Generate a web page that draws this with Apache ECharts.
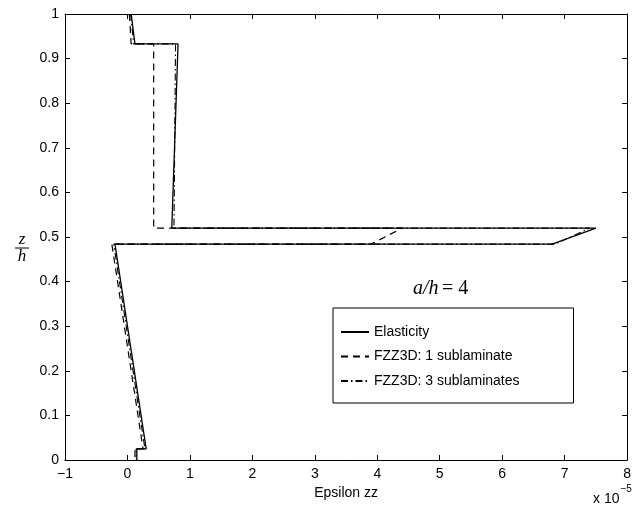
<!DOCTYPE html>
<html>
<head>
<meta charset="utf-8">
<script src="https://cdn.jsdelivr.net/npm/echarts@6/dist/echarts.min.js"></script>
<style>html,body{margin:0;padding:0;background:#fff}#c{width:634px;height:505px}</style>
</head>
<body>
<div id="c"></div>
<script>
// Data (x in units of 1e-5, y = z/h)
const elasticX = [0.06, 0.12, 0.81, 0.71, 7.5, 6.8, -0.2, 0.3, 0.15, 0.15];
const elasticY = [1.0, 0.933, 0.933, 0.52, 0.52, 0.484, 0.484, 0.025, 0.025, 0.0];
const sub1X = [0.03, 0.06, 0.42, 0.42, 4.4, 3.9, -0.25, 0.25, 0.12, 0.12];
const sub1Y = [1.0, 0.933, 0.933, 0.52, 0.52, 0.484, 0.484, 0.025, 0.025, 0.0];
const sub3X = [0.05, 0.1, 0.77, 0.745, 7.4, 6.85, -0.22, 0.28, 0.14, 0.14];
const sub3Y = [1.0, 0.933, 0.933, 0.52, 0.52, 0.484, 0.484, 0.025, 0.025, 0.0];
const seriesNames = ['Elasticity', 'FZZ3D: 1 sublaminate', 'FZZ3D: 3 sublaminates'];

const zip = (xs, ys) => xs.map((x, i) => [x, ys[i]]);
const font = 'Liberation Sans, Arial, Helvetica, sans-serif';
const serif = 'Liberation Serif, Times New Roman, serif';

const chart = echarts.init(document.getElementById('c'), null, {renderer: 'canvas'});
const baseX = {
  type: 'value', min: -1, max: 8, interval: 1,
  axisLine: {show: true, onZero: false, lineStyle: {color: '#000', width: 1}},
  axisTick: {show: true, inside: true, length: 5, lineStyle: {color: '#000'}},
  splitLine: {show: false}
};
const baseY = {
  type: 'value', min: 0, max: 1, interval: 0.1,
  axisLine: {show: true, onZero: false, lineStyle: {color: '#000', width: 1}},
  axisTick: {show: true, inside: true, length: 5, lineStyle: {color: '#000'}},
  splitLine: {show: false}
};
chart.setOption({
  animation: false,
  backgroundColor: '#fff',
  grid: {left: 65, right: 0, top: 14, bottom: 45},
  xAxis: [
    Object.assign({}, baseX, {position: 'bottom',
      axisLabel: {color: '#000', fontSize: 14, fontFamily: font, margin: 7,
        formatter: v => (v < 0 ? '\u2212' + (-v) : String(v))},
      name: 'Epsilon zz', nameLocation: 'middle', nameGap: 25,
      nameTextStyle: {color: '#000', fontSize: 14, fontFamily: font}}),
    Object.assign({}, baseX, {position: 'top', axisLabel: {show: false}})
  ],
  yAxis: [
    Object.assign({}, baseY, {position: 'left',
      axisLabel: {color: '#000', fontSize: 14, fontFamily: font, margin: 6,
        formatter: v => String(Math.round(v * 10) / 10)}}),
    Object.assign({}, baseY, {position: 'right', axisLabel: {show: false}})
  ],
  legend: {
    orient: 'vertical', left: 333, top: 308,
    backgroundColor: '#fff', borderColor: '#000', borderWidth: 1, borderRadius: 0,
    padding: [17, 54, 15, 7],
    itemWidth: 28, itemHeight: 14, itemGap: 10.5,
    itemStyle: {opacity: 0},
    textStyle: {color: '#000', fontSize: 14, fontFamily: font},
    data: seriesNames
  },
  series: [
    {name: seriesNames[0], type: 'line', data: zip(elasticX, elasticY), symbol: 'none',
      lineStyle: {color: '#000', width: 1.3, type: 'solid'}, itemStyle: {color: '#000'}},
    {name: seriesNames[1], type: 'line', data: zip(sub1X, sub1Y), symbol: 'none',
      lineStyle: {color: '#000', width: 1.2, type: [7, 5]}, itemStyle: {color: '#000'}},
    {name: seriesNames[2], type: 'line', data: zip(sub3X, sub3Y), symbol: 'none',
      lineStyle: {color: '#000', width: 1.1, type: [7, 3, 1.5, 3]}, itemStyle: {color: '#000'}}
  ],
  graphic: [
    {type: 'text', left: 413, top: 279, style: {
      text: '{i|a/h} {n|= 4}',
      rich: {
        i: {fontFamily: serif, fontStyle: 'italic', fontSize: 20, fill: '#000'},
        n: {fontFamily: serif, fontSize: 20, fill: '#000'}
      }}},
    {type: 'text', x: 22, y: 240, style: {text: 'z', fontFamily: serif, fontStyle: 'italic',
      fontSize: 17, fill: '#000', align: 'center', verticalAlign: 'middle'}},
    {type: 'line', shape: {x1: 15, y1: 248, x2: 29, y2: 248}, style: {stroke: '#000', lineWidth: 1}},
    {type: 'text', x: 22, y: 257, style: {text: 'h', fontFamily: serif, fontStyle: 'italic',
      fontSize: 17, fill: '#000', align: 'center', verticalAlign: 'middle'}},
    {type: 'text', left: 593, top: 484, style: {
      text: '{a|x 10}{s|\u22125}',
      rich: {
        a: {fontFamily: font, fontSize: 14, fill: '#000', verticalAlign: 'bottom', padding: [8, 0, 0, 0]},
        s: {fontFamily: font, fontSize: 10, fill: '#000', verticalAlign: 'top', padding: [0, 0, 10, 1]}
      }}}
  ]
});
</script>
</body>
</html>
